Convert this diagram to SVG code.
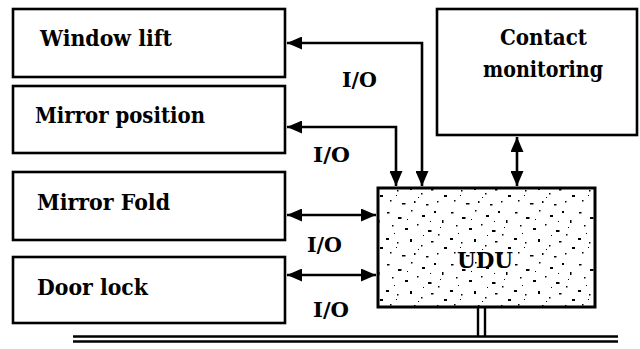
<svg xmlns="http://www.w3.org/2000/svg" width="640" height="349" viewBox="0 0 640 349">
  <style>
    .box { fill: #fff; stroke: #000; stroke-width: 2.6; }
    .lbl { font-family: "DejaVu Serif", "Liberation Serif", serif; font-weight: bold; font-size: 23px; fill: #000; }
    .io { font-family: "DejaVu Serif", "Liberation Serif", serif; font-weight: bold; font-size: 21px; fill: #000; }
    .con { fill: none; stroke: #000; stroke-width: 2.6; }
    .bus { fill: none; stroke: #000; stroke-width: 2.4; }
  </style>
  <defs>
    <marker id="ah" markerUnits="userSpaceOnUse" markerWidth="15" markerHeight="13" refX="15" refY="6.5" orient="auto-start-reverse">
      <path d="M0,0 L15,6.5 L0,13 z" fill="#000"/>
    </marker>
    <pattern id="speck" patternUnits="userSpaceOnUse" width="64" height="52">
      <rect width="64" height="52" fill="#fff"/>
      <g fill="#000">
        <rect x="3" y="4" width="2.5" height="1.5"/>
        <rect x="14" y="9" width="3.5" height="2"/>
        <rect x="27" y="2" width="1.5" height="1.5"/>
        <rect x="38" y="7" width="3" height="2"/>
        <rect x="50" y="3" width="2" height="2"/>
        <rect x="58" y="12" width="1.5" height="3"/>
        <rect x="8" y="17" width="1.5" height="1.5"/>
        <rect x="21" y="20" width="3" height="2"/>
        <rect x="33" y="16" width="1.5" height="1.5"/>
        <rect x="44" y="22" width="3.5" height="2"/>
        <rect x="54" y="26" width="1.5" height="1.5"/>
        <rect x="2" y="30" width="3" height="2"/>
        <rect x="13" y="34" width="1.5" height="1.5"/>
        <rect x="26" y="31" width="2" height="3"/>
        <rect x="37" y="37" width="1.5" height="1.5"/>
        <rect x="47" y="33" width="2.5" height="1.5"/>
        <rect x="60" y="39" width="3" height="2"/>
        <rect x="6" y="44" width="1.5" height="1.5"/>
        <rect x="18" y="47" width="3.5" height="1.5"/>
        <rect x="30" y="45" width="1.5" height="2"/>
        <rect x="42" y="48" width="2.5" height="1.5"/>
        <rect x="53" y="45" width="1.5" height="1.5"/>
        <rect x="23" y="11" width="1" height="1"/>
        <rect x="46" y="13" width="1" height="1"/>
        <rect x="10" y="25" width="1" height="1"/>
        <rect x="39" y="27" width="1" height="1"/>
        <rect x="56" y="19" width="1" height="1"/>
        <rect x="34" y="41" width="1" height="1"/>
        <rect x="12" y="39" width="1" height="1"/>
      </g>
    </pattern>
  </defs>

  <g id="window-lift">
    <rect class="box" x="13" y="9" width="272" height="68"/>
    <text class="lbl" x="40" y="46" textLength="132" lengthAdjust="spacingAndGlyphs">Window lift</text>
  </g>
  <g id="mirror-position">
    <rect class="box" x="13" y="86" width="272" height="67"/>
    <text class="lbl" x="35" y="123" textLength="170" lengthAdjust="spacingAndGlyphs">Mirror position</text>
  </g>
  <g id="mirror-fold">
    <rect class="box" x="13" y="172" width="272" height="68"/>
    <text class="lbl" x="37" y="210" textLength="133" lengthAdjust="spacingAndGlyphs">Mirror Fold</text>
  </g>
  <g id="door-lock">
    <rect class="box" x="13" y="257" width="272" height="66"/>
    <text class="lbl" x="37" y="295" textLength="111" lengthAdjust="spacingAndGlyphs">Door lock</text>
  </g>
  <g id="contact-monitoring">
    <rect class="box" x="437" y="9" width="200" height="126"/>
    <text class="lbl" x="500" y="45" textLength="87" lengthAdjust="spacingAndGlyphs">Contact</text>
    <text class="lbl" x="483" y="77" textLength="120" lengthAdjust="spacingAndGlyphs">monitoring</text>
  </g>
  <g id="udu">
    <rect x="378" y="188" width="217" height="119" fill="url(#speck)" stroke="#000" stroke-width="3"/>
    <text class="lbl" x="457" y="268" font-size="25" textLength="56" lengthAdjust="spacingAndGlyphs">UDU</text>
  </g>

  <g id="connectors">
    <path class="con" d="M422,186 V43 H287" marker-start="url(#ah)" marker-end="url(#ah)"/>
    <path class="con" d="M396,186 V127 H287" marker-start="url(#ah)" marker-end="url(#ah)"/>
    <path class="con" d="M517,137 V186" marker-start="url(#ah)" marker-end="url(#ah)"/>
    <path class="con" d="M287,215 H376" marker-start="url(#ah)" marker-end="url(#ah)"/>
    <path class="con" d="M287,275 H376" marker-start="url(#ah)" marker-end="url(#ah)"/>
    <path class="bus" d="M478,307 V336.5 M485,307 V336.5"/>
    <path class="bus" d="M73,336.5 H618 M73,341.5 H618"/>
  </g>

  <g id="labels">
    <text class="io" x="342" y="87" textLength="35" lengthAdjust="spacingAndGlyphs">I/O</text>
    <text class="io" x="313" y="162" textLength="37" lengthAdjust="spacingAndGlyphs">I/O</text>
    <text class="io" x="307" y="252" textLength="35" lengthAdjust="spacingAndGlyphs">I/O</text>
    <text class="io" x="313" y="317" textLength="36" lengthAdjust="spacingAndGlyphs">I/O</text>
  </g>
</svg>
